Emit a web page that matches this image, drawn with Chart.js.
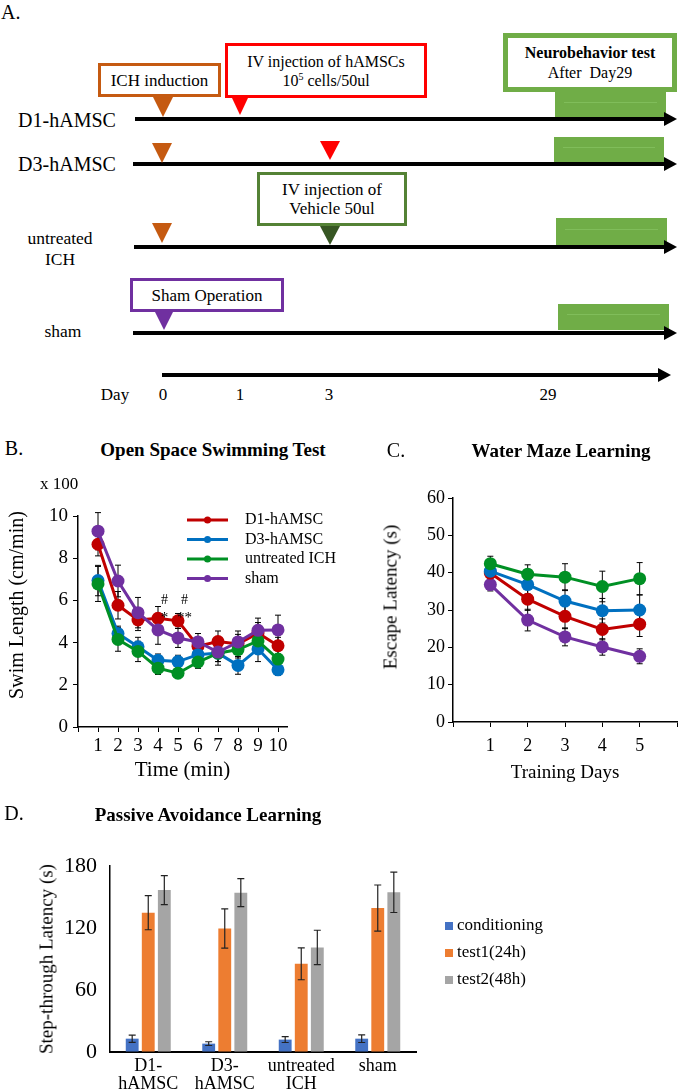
<!DOCTYPE html>
<html>
<head>
<meta charset="utf-8">
<script src="https://cdn.jsdelivr.net/npm/chart.js@4.4.1/dist/chart.umd.min.js"></script>
<style>
  body { margin: 0; background: #fff; }
  #page { position: relative; width: 685px; height: 1089px; overflow: hidden; font-family: 'Liberation Serif', 'Times New Roman', serif; color: #000; }
  .a { position: absolute; white-space: nowrap; line-height: 1; }
  .c { position: absolute; white-space: nowrap; line-height: 1; transform: translate(-50%, -50%); }
  .v { position: absolute; white-space: nowrap; line-height: 1; transform: translate(-50%, -50%) rotate(-90deg); }
  .box { position: absolute; box-sizing: border-box; background: #fff; display: flex; flex-direction: column; align-items: center; justify-content: center; text-align: center; line-height: 19px; }
  .ln { position: absolute; height: 4px; background: #000; }
  .ln::after { content: ''; position: absolute; right: -12px; top: -5px; border-left: 13px solid #000; border-top: 7px solid transparent; border-bottom: 7px solid transparent; }
  .tri { position: absolute; width: 0; height: 0; border-style: solid; border-bottom: 0; border-left-color: transparent; border-right-color: transparent; }
  .grn { position: absolute; background: #70ad47; }
  .grn::after { content: ''; position: absolute; left: 8%; width: 84%; top: 40%; height: 1px; background: #80bd5a; }
  canvas { position: absolute; }
</style>
</head>
<body>
<div id="page">
  <!-- A. timeline -->
  <div class="a" style="left:1px;top:2px;font-size:20px">A.</div>

  <div class="grn" style="left:555px;top:92px;width:111px;height:26px"></div>
  <div class="grn" style="left:554px;top:137px;width:110px;height:26px"></div>
  <div class="grn" style="left:556px;top:218px;width:111px;height:27px"></div>
  <div class="grn" style="left:558px;top:304px;width:111px;height:26px"></div>

  <div class="ln" style="left:135px;top:117px;width:530px"></div>
  <div class="ln" style="left:133px;top:162px;width:532px"></div>
  <div class="ln" style="left:134px;top:245px;width:531px"></div>
  <div class="ln" style="left:133px;top:331px;width:532px"></div>
  <div class="ln" style="left:162px;top:373px;width:497px"></div>

  <div class="box" style="left:98px;top:63px;width:123px;height:34px;border:3px solid #c55a11;font-size:17px">ICH induction</div>
  <div class="box" style="left:225px;top:43px;width:202px;height:55px;border:3px solid #ff0000;font-size:16px"><div>IV injection of hAMSCs</div><div>10<sup style="font-size:10px;line-height:0">5</sup> cells/50ul</div></div>
  <div class="box" style="left:503px;top:33px;width:174px;height:59px;border:5px solid #70ad47;font-size:16px;line-height:20px"><div style="font-weight:bold">Neurobehavior test</div><div style="white-space:pre">After  Day29</div></div>
  <div class="box" style="left:257px;top:172px;width:150px;height:54px;border:3px solid #548235;font-size:17px"><div>IV injection of</div><div>Vehicle 50ul</div></div>
  <div class="box" style="left:130px;top:278px;width:154px;height:34px;border:3px solid #7030a0;font-size:17px">Sham Operation</div>

  <div class="tri" style="left:153px;top:97px;border-width:20px 10px 0 10px;border-top-color:#c55a11"></div>
  <div class="tri" style="left:232px;top:98px;border-width:17px 8px 0 8px;border-top-color:#ff0000"></div>
  <div class="tri" style="left:152px;top:143px;border-width:20px 10px 0 10px;border-top-color:#c55a11"></div>
  <div class="tri" style="left:320px;top:141px;border-width:19px 10px 0 10px;border-top-color:#ff0000"></div>
  <div class="tri" style="left:152px;top:223px;border-width:20px 10px 0 10px;border-top-color:#c55a11"></div>
  <div class="tri" style="left:320px;top:226px;border-width:19px 10px 0 10px;border-top-color:#375623"></div>
  <div class="tri" style="left:155px;top:312px;border-width:18px 9px 0 9px;border-top-color:#7030a0"></div>

  <div class="c" style="left:67px;top:120px;font-size:20px">D1-hAMSC</div>
  <div class="c" style="left:67px;top:164px;font-size:20px">D3-hAMSC</div>
  <div class="c" style="left:60px;top:239px;font-size:17.5px">untreated</div>
  <div class="c" style="left:60px;top:260px;font-size:17.5px">ICH</div>
  <div class="c" style="left:63px;top:332px;font-size:17.5px">sham</div>

  <div class="c" style="left:115px;top:394px;font-size:17px">Day</div>
  <div class="c" style="left:163px;top:394px;font-size:17px">0</div>
  <div class="c" style="left:240px;top:394px;font-size:17px">1</div>
  <div class="c" style="left:329px;top:394px;font-size:17px">3</div>
  <div class="c" style="left:548px;top:394px;font-size:17px">29</div>

  <canvas id="swim" width="345" height="320" style="left:0;top:460px"></canvas>
  <canvas id="maze" width="340" height="330" style="left:345px;top:460px"></canvas>
  <canvas id="avoid" width="685" height="299" style="left:0;top:790px"></canvas>

  <div class="c" style="left:14px;top:448px;font-size:20px">B.</div>
  <div class="c" style="left:213px;top:449px;font-size:19px;font-weight:bold">Open Space Swimming Test</div>
  <div class="a" style="left:40px;top:475px;font-size:17px">x 100</div>
  <div class="v" style="left:16px;top:605px;font-size:20px">Swim Length (cm/min)</div>

  <div class="c" style="left:396px;top:450px;font-size:20px">C.</div>
  <div class="c" style="left:561px;top:450px;font-size:19px;font-weight:bold">Water Maze Learning</div>
  <div class="v" style="left:390px;top:597px;font-size:19px">Escape Latency (s)</div>

  <div class="c" style="left:14px;top:813px;font-size:20px">D.</div>
  <div class="c" style="left:208px;top:814px;font-size:19px;font-weight:bold">Passive Avoidance Learning</div>
  <div class="v" style="left:46px;top:959px;font-size:19px">Step-through Latency (s)</div>
</div>

<script>
// groups and colours shared by B and C
const groups = ['D1-hAMSC', 'D3-hAMSC', 'untreated ICH', 'sham'];
const groupColors = ['#c00000', '#0070c0', '#009024', '#7030a0'];

// B. open space swimming (x100 cm/min)
const swimTimes = [1, 2, 3, 4, 5, 6, 7, 8, 9, 10];
const swimD1 = [8.66, 5.77, 5.07, 5.15, 5.03, 3.83, 4.05, 3.94, 4.45, 3.85];
const swimD3 = [6.94, 4.43, 3.80, 3.16, 3.10, 3.43, 3.50, 2.92, 3.70, 2.71];
const swimICH = [6.78, 4.15, 3.58, 2.79, 2.55, 3.08, 3.50, 3.67, 4.08, 3.22];
const swimSham = [9.28, 6.92, 5.42, 4.60, 4.22, 4.03, 3.55, 4.03, 4.58, 4.60];
const swimD1Err = [0.55, 0.65, 0.50, 0.56, 0.35, 0.35, 0.50, 0.45, 0.50, 0.40];
const swimD3Err = [0.72, 0.35, 0.45, 0.30, 0.30, 0.35, 0.40, 0.42, 0.60, 0.27];
const swimICHErr = [0.83, 0.56, 0.48, 0.30, 0.20, 0.30, 0.40, 0.40, 0.50, 0.40];
const swimShamErr = [0.88, 0.75, 0.72, 0.68, 0.45, 0.40, 0.62, 0.52, 0.58, 0.70];
const swimXTicks = [0, 1, 2, 3, 4, 5, 6, 7, 8, 9, 10];
const swimYTicks = [0, 2, 4, 6, 8, 10];
const sigTimes = [4, 5];
const sigHash = ['#', '#'];
const sigStars = ['*', '**'];

// C. water maze (s)
const days = [1, 2, 3, 4, 5];
const mazeD1 = [39.9, 32.9, 28.3, 24.8, 26.2];
const mazeD3 = [40.4, 36.8, 32.4, 29.8, 30.0];
const mazeICH = [42.4, 39.6, 38.8, 36.3, 38.4];
const mazeSham = [36.8, 27.3, 22.8, 20.1, 17.6];
const mazeD1Err = [1.2, 3.0, 3.3, 2.8, 3.3];
const mazeD3Err = [1.5, 2.5, 3.0, 3.3, 4.0];
const mazeICHErr = [2.0, 2.5, 3.6, 4.1, 4.3];
const mazeShamErr = [1.7, 2.9, 2.4, 2.2, 2.0];
const mazeXTicks = [0, 1, 2, 3, 4, 5, 6];
const mazeYTicks = [0, 10, 20, 30, 40, 50, 60];

// D. passive avoidance (s)
const paLabels = [['D1-', 'hAMSC'], ['D3-', 'hAMSC'], ['untreated', 'ICH'], 'sham'];
const paSeries = ['conditioning', 'test1(24h)', 'test2(48h)'];
const paColors = ['#4472c4', '#ed7d31', '#a5a5a5'];
const paCond = [12.9, 8.1, 12.0, 12.9];
const paTest1 = [134.8, 119.6, 85.3, 139.3];
const paTest2 = [156.7, 154.2, 101.2, 154.5];
const paCondErr = [3.5, 1.8, 2.8, 3.7];
const paTest1Err = [16.5, 19.0, 15.4, 22.3];
const paTest2Err = [14.0, 13.5, 16.6, 19.5];
const paYTicks = [0, 60, 120, 180];

Chart.defaults.font.family = "'Liberation Serif', 'Times New Roman', serif";
Chart.defaults.color = '#000';

// error bars from dataset.errors
function drawErrorBars(chart, o) {
  const ctx = chart.ctx, ys = chart.scales.y;
  chart.data.datasets.forEach((ds, i) => {
    if (!ds.errors) return;
    const meta = chart.getDatasetMeta(i);
    ctx.save();
    ctx.strokeStyle = o.color;
    ctx.lineWidth = o.width;
    meta.data.forEach((el, j) => {
      const d = ds.data[j];
      const v = typeof d === 'object' ? d.y : d;
      const top = ys.getPixelForValue(v + ds.errors[j]);
      const bot = ys.getPixelForValue(v - ds.errors[j]);
      ctx.beginPath();
      ctx.moveTo(el.x, top); ctx.lineTo(el.x, bot);
      ctx.moveTo(el.x - o.cap, top); ctx.lineTo(el.x + o.cap, top);
      ctx.moveTo(el.x - o.cap, bot); ctx.lineTo(el.x + o.cap, bot);
      ctx.stroke();
    });
    ctx.restore();
  });
}
const errorBars = {
  id: 'errorBars',
  beforeDatasetsDraw(chart, args, o) { if (!o.onTop) drawErrorBars(chart, o); },
  afterDatasetsDraw(chart, args, o) { if (o.onTop) drawErrorBars(chart, o); }
};

// legend drawn at a fixed spot (inside/right of the plot)
const seriesLegend = {
  id: 'seriesLegend',
  afterDraw(chart, args, o) {
    const ctx = chart.ctx;
    ctx.save();
    ctx.font = o.font;
    ctx.textBaseline = 'middle';
    ctx.textAlign = 'left';
    chart.data.datasets.forEach((ds, i) => {
      const y = o.y + i * o.step;
      if (o.marker === 'line') {
        ctx.strokeStyle = ds.borderColor;
        ctx.lineWidth = 3;
        ctx.beginPath(); ctx.moveTo(o.x, y); ctx.lineTo(o.x + o.w, y); ctx.stroke();
        ctx.fillStyle = ds.borderColor;
        ctx.beginPath(); ctx.arc(o.x + o.w / 2, y, 3.5, 0, Math.PI * 2); ctx.fill();
      } else {
        ctx.fillStyle = ds.backgroundColor;
        ctx.fillRect(o.x, y - o.w / 2, o.w, o.w);
      }
      ctx.fillStyle = '#000';
      ctx.fillText(ds.label, o.textX, y);
    });
    ctx.restore();
  }
};

// # and * marks in B
const sigMarks = {
  id: 'sigMarks',
  afterDatasetsDraw(chart, args, o) {
    const xs = chart.scales.x, ys = chart.scales.y, ctx = chart.ctx;
    ctx.save();
    ctx.fillStyle = '#000';
    ctx.textAlign = 'center';
    ctx.textBaseline = 'middle';
    sigTimes.forEach((t, i) => {
      const px = xs.getPixelForValue(t + o.dx);
      ctx.font = o.hashFont;
      ctx.fillText(sigHash[i], px, ys.getPixelForValue(o.hashY));
      ctx.font = o.starFont;
      ctx.fillText(sigStars[i], px, ys.getPixelForValue(o.starY));
    });
    ctx.restore();
  }
};

function lineSet(label, color, xs, ys, errs, order) {
  return {
    label: label,
    data: xs.map((x, i) => ({ x: x, y: ys[i] })),
    errors: errs,
    order: order,
    borderColor: color,
    backgroundColor: color,
    borderWidth: 3,
    pointRadius: 6.5,
    pointBackgroundColor: color,
    pointBorderWidth: 0,
    tension: 0
  };
}

function axisX(min, max, ticks, fit, pad, title, fontSize) {
  return {
    type: 'linear', min: min, max: max,
    afterBuildTicks: s => { s.ticks = ticks.map(v => ({ value: v })); },
    afterFit: s => { s.height = fit; },
    grid: { drawOnChartArea: false, drawTicks: true, tickLength: 5, color: '#000', lineWidth: 1 },
    border: { color: '#000', width: 1.5 },
    ticks: { color: '#000', font: { size: fontSize }, padding: pad, maxRotation: 0, autoSkip: false,
             callback: v => (v === min || v === max) ? '' : v },
    title: title
  };
}
function axisY(min, max, ticks, fit, pad, fontSize, drawTicks) {
  return {
    min: min, max: max,
    afterBuildTicks: s => { s.ticks = ticks.map(v => ({ value: v })); },
    afterFit: s => { s.width = fit; },
    grid: { drawOnChartArea: false, drawTicks: drawTicks, tickLength: 5, color: '#000', lineWidth: 1 },
    border: { color: '#000', width: 1.5 },
    ticks: { color: '#000', font: { size: fontSize }, padding: pad }
  };
}

new Chart(document.getElementById('swim'), {
  type: 'line',
  data: {
    datasets: [
      lineSet(groups[0], groupColors[0], swimTimes, swimD1, swimD1Err, 3),
      lineSet(groups[1], groupColors[1], swimTimes, swimD3, swimD3Err, 2),
      lineSet(groups[2], groupColors[2], swimTimes, swimICH, swimICHErr, 1),
      lineSet(groups[3], groupColors[3], swimTimes, swimSham, swimShamErr, 0)
    ]
  },
  plugins: [errorBars, seriesLegend, sigMarks],
  options: {
    responsive: false, animation: false, devicePixelRatio: 1,
    layout: { padding: { top: 56, right: 58, left: 0, bottom: 0 } },
    plugins: {
      legend: { display: false }, tooltip: { enabled: false },
      errorBars: { color: '#000', width: 1, cap: 3, onTop: false },
      seriesLegend: { marker: 'line', x: 187, w: 41, textX: 245, y: 60, step: 19.5, font: "16px 'Liberation Serif'" },
      sigMarks: { dx: 0.33, hashY: 6.0, starY: 5.15, hashFont: "14px 'Liberation Serif'", starFont: "15px 'Liberation Serif'" }
    },
    scales: {
      x: axisX(0, 10.45, swimXTicks, 53, 3,
        { display: true, text: 'Time (min)', color: '#000', font: { size: 21 }, padding: { top: 0, bottom: -3 } }, 19),
      y: axisY(0, 10, swimYTicks, 78, 5, 19, true)
    }
  }
});

new Chart(document.getElementById('maze'), {
  type: 'line',
  data: {
    datasets: [
      lineSet(groups[0], groupColors[0], days, mazeD1, mazeD1Err, 2),
      lineSet(groups[1], groupColors[1], days, mazeD3, mazeD3Err, 1),
      lineSet(groups[2], groupColors[2], days, mazeICH, mazeICHErr, 0),
      lineSet(groups[3], groupColors[3], days, mazeSham, mazeShamErr, 3)
    ]
  },
  plugins: [errorBars],
  options: {
    responsive: false, animation: false, devicePixelRatio: 1,
    layout: { padding: { top: 38, right: 1, left: 0, bottom: 0 } },
    plugins: {
      legend: { display: false }, tooltip: { enabled: false },
      errorBars: { color: '#000', width: 1, cap: 3, onTop: false }
    },
    scales: {
      x: axisX(0, 6, mazeXTicks, 68, 8,
        { display: true, text: 'Training Days', color: '#000', font: { size: 19 }, padding: { top: 0, bottom: 6 } }, 18),
      y: axisY(0, 60, mazeYTicks, 108, 3, 18, true)
    }
  }
});

new Chart(document.getElementById('avoid'), {
  type: 'bar',
  data: {
    labels: paLabels,
    datasets: [
      { label: paSeries[0], data: paCond, errors: paCondErr, backgroundColor: paColors[0] },
      { label: paSeries[1], data: paTest1, errors: paTest1Err, backgroundColor: paColors[1] },
      { label: paSeries[2], data: paTest2, errors: paTest2Err, backgroundColor: paColors[2] }
    ]
  },
  plugins: [errorBars, seriesLegend],
  options: {
    responsive: false, animation: false, devicePixelRatio: 1,
    categoryPercentage: 0.63, barPercentage: 0.8,
    layout: { padding: { top: 76, right: 269, left: 0, bottom: 0 } },
    plugins: {
      legend: { display: false }, tooltip: { enabled: false },
      errorBars: { color: '#222', width: 1.2, cap: 3.5, onTop: true },
      seriesLegend: { marker: 'box', x: 445, w: 8, textX: 457, y: 136, step: 27, font: "17px 'Liberation Serif'" }
    },
    scales: {
      x: {
        afterFit: s => { s.height = 37; },
        grid: { display: true, drawOnChartArea: false, drawTicks: false },
        border: { color: '#000', width: 2 },
        ticks: { color: '#000', font: { size: 18, lineHeight: 1.0 }, padding: 5, maxRotation: 0, autoSkip: false }
      },
      y: axisY(0, 180, paYTicks, 110, 13, 22, false)
    }
  }
});
</script>
</body>
</html>
